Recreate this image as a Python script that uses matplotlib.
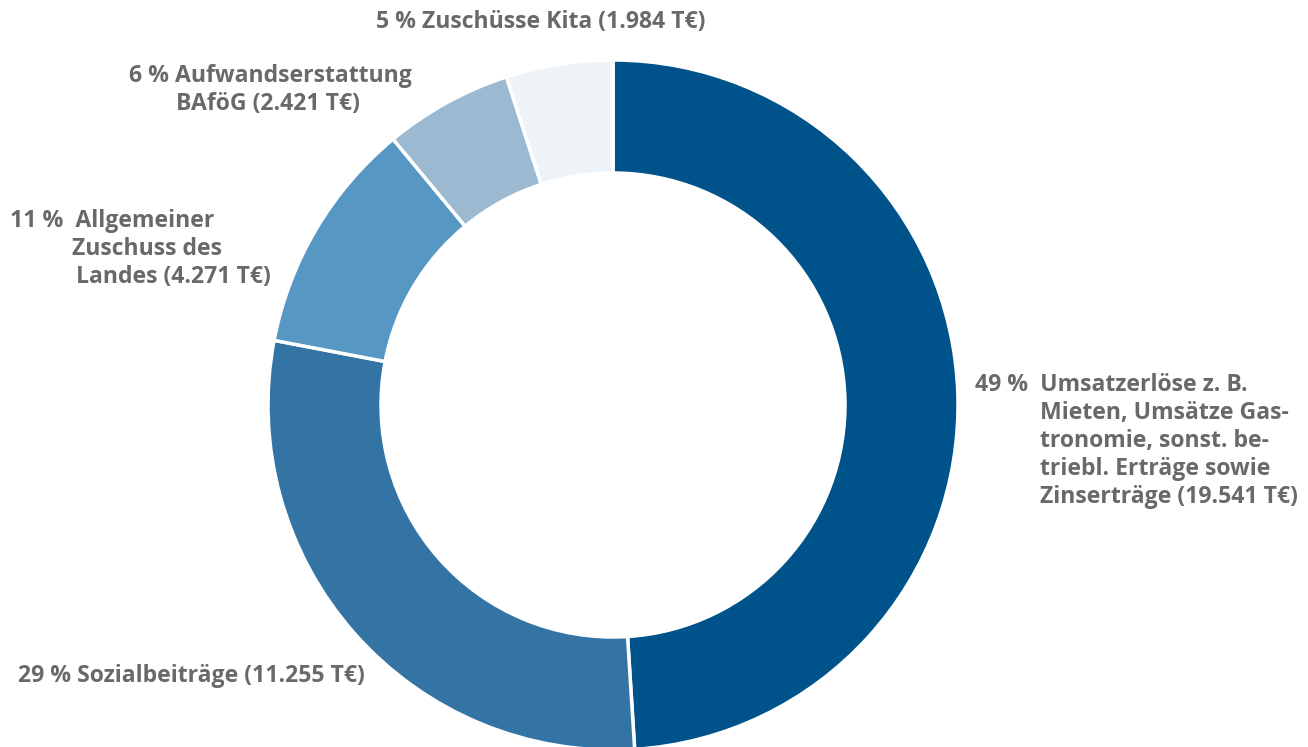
import matplotlib.pyplot as plt

# Ertragsstruktur: Anteile in % (wie im Diagramm gerundet), Beträge in T€
labels = ['Umsatzerlöse', 'Sozialbeiträge', 'Allgemeiner Zuschuss des Landes',
          'Aufwandserstattung BAföG', 'Zuschüsse Kita']
shares = [49, 29, 11, 6, 5]
amounts = [19541, 11255, 4271, 2421, 1984]
colors = ['#00528a', '#3474a5', '#5697c4', '#9bb9d1', '#eef3f7']

W, H = 1308, 747
fig = plt.figure(figsize=(W / 100, H / 100), dpi=100)
ax = fig.add_axes([0, 0, 1, 1])

ax.pie(shares, colors=colors, startangle=90, counterclock=False,
       center=(613, H - 405), radius=345, frame=True,
       wedgeprops=dict(width=113, edgecolor='white', linewidth=2.5))
ax.set_xlim(0, W)
ax.set_ylim(0, H)
ax.set_aspect('auto')
ax.axis('off')

txt = dict(color='#696969', fontsize=16.6, fontfamily='Open Sans', fontweight='bold',
           va='center')


def put(x, y, s, ha='left'):
    ax.text(x, H - y, s, ha=ha, **txt)


def fmt(v):
    return f'{v:,}'.replace(',', '.') + ' T€'


put(541, 22, f'{shares[4]} % Zuschüsse Kita ({fmt(amounts[4])})', ha='center')
put(270, 76, f'{shares[3]} % Aufwandserstattung', ha='center')
put(268, 104, f'BAföG ({fmt(amounts[3])})', ha='center')
put(10, 221, f'{shares[2]} %  Allgemeiner')
put(72, 249, 'Zuschuss des')
put(76, 277, f'Landes ({fmt(amounts[2])})')
put(975, 385, f'{shares[0]} %  Umsatzerlöse z. B.')
put(1040, 413, 'Mieten, Umsätze Gas-')
put(1040, 441, 'tronomie, sonst. be-')
put(1040, 469, 'triebl. Erträge sowie')
put(1040, 497, f'Zinserträge ({fmt(amounts[0])})')
put(18, 676, f'{shares[1]} % Sozialbeiträge ({fmt(amounts[1])})')

fig.savefig('out.png', dpi=100)
